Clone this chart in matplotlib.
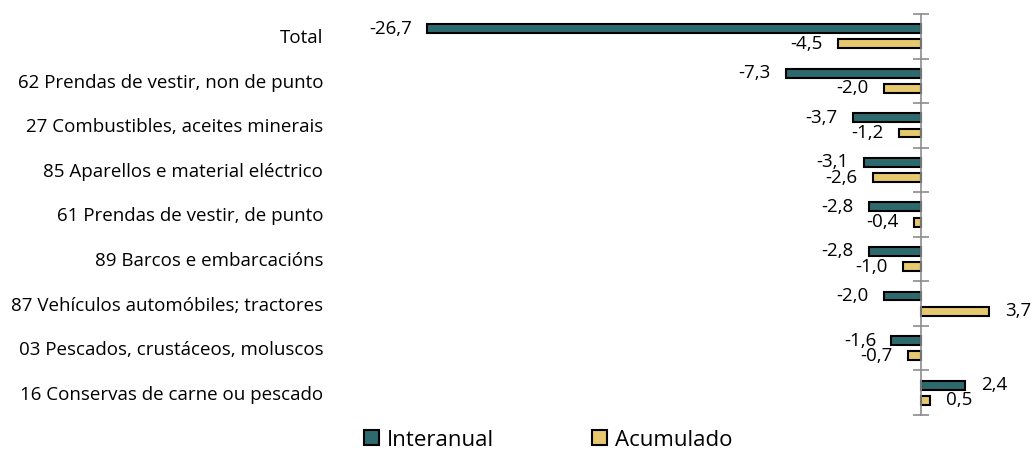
import numpy as np
import matplotlib.pyplot as plt

plt.rcParams['font.family'] = ['Open Sans', 'DejaVu Sans']

# Datos (variación, puntos porcentuais)
categorias = [
    'Total',
    '62 Prendas de vestir, non de punto',
    '27 Combustibles, aceites minerais',
    '85 Aparellos e material eléctrico',
    '61 Prendas de vestir, de punto',
    '89 Barcos e embarcacións',
    '87 Vehículos automóbiles; tractores',
    '03 Pescados, crustáceos, moluscos',
    '16 Conservas de carne ou pescado',
]
interanual = [-26.7, -7.3, -3.7, -3.1, -2.8, -2.8, -2.0, -1.6, 2.4]
acumulado = [-4.5, -2.0, -1.2, -2.6, -0.4, -1.0, 3.7, -0.7, 0.5]

col_inter = '#2D6A6E'
col_acum = '#E6C86E'
fs = 13.5

fig = plt.figure(figsize=(10.35, 4.5), dpi=100)
ax = fig.add_axes([340 / 1035, 35 / 450, 690 / 1035, 401 / 450])

y = np.arange(len(categorias))
off = 0.17
h = 0.2
b1 = ax.barh(y - off, interanual, height=h, color=col_inter, edgecolor='black',
             linewidth=1.5, label='Interanual')
b2 = ax.barh(y + off, acumulado, height=h, color=col_acum, edgecolor='black',
             linewidth=1.5, label='Acumulado')

# Etiquetas de datos
for serie, yy in ((interanual, y - off), (acumulado, y + off)):
    for v, yp in zip(serie, yy):
        txt = f'{v:.1f}'.replace('.', ',')
        if v < 0:
            ax.annotate(txt, (v, yp), xytext=(-11, 0), textcoords='offset points',
                        ha='right', va='center', fontsize=fs)
        else:
            ax.annotate(txt, (v, yp), xytext=(11, 0), textcoords='offset points',
                        ha='left', va='center', fontsize=fs)

ppu = 18.5  # píxeles por unidade
ax.set_xlim(-(921 - 340) / ppu, (1030 - 921) / ppu)
ax.set_ylim(len(categorias) - 0.5, -0.5)

ax.set_yticks(y)
ax.set_yticklabels(categorias)
ax.set_yticks(np.arange(-0.5, len(categorias)), minor=True)
ax.tick_params(axis='y', which='major', length=0, pad=12, labelsize=fs)
ax.tick_params(axis='y', which='minor', left=False, right=True,
               direction='inout', length=11, width=1.2, color='#8C8C8C')
ax.set_xticks([])

for s in ('left', 'top', 'bottom'):
    ax.spines[s].set_visible(False)
ax.spines['right'].set_position(('data', 0))
ax.spines['right'].set_color('#8C8C8C')
ax.spines['right'].set_linewidth(1.2)

fig.legend(handles=[b1, b2], loc='center', bbox_to_anchor=(0.53, 10 / 450),
           ncol=2, frameon=False, fontsize=16, handlelength=0.68, handleheight=0.68,
           handletextpad=0.36, columnspacing=4.4, borderpad=0)

fig.savefig('out.png', dpi=100)
